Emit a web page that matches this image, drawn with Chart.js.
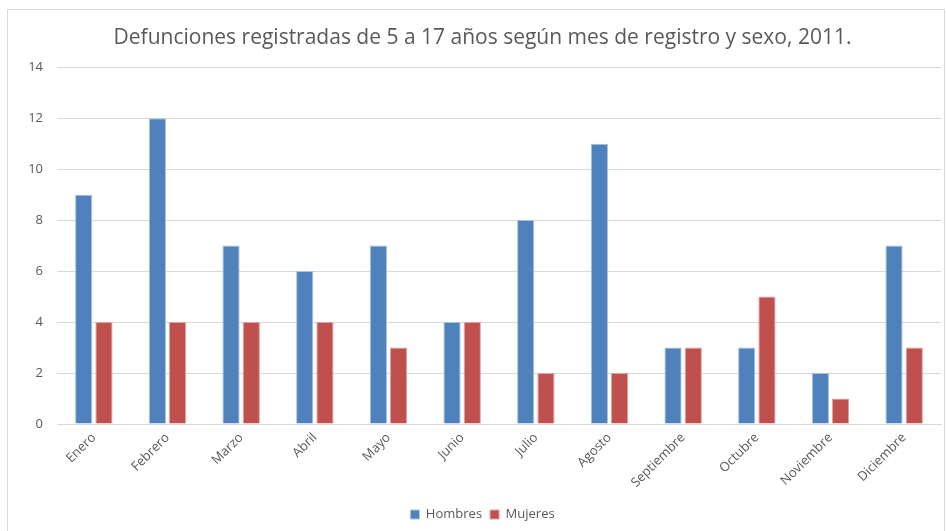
<!DOCTYPE html>
<html>
<head>
<meta charset="utf-8">
<script src="https://cdn.jsdelivr.net/npm/chart.js@4.4.1/dist/chart.umd.min.js"></script>
<style>
    html, body { margin: 0; padding: 0; background: #fff; }
    #wrap { position: relative; width: 946px; height: 531px; overflow: hidden; }
    #frame { position: absolute; left: 7px; top: 9px; width: 936px; height: 530px; border: 1px solid #d9d9d9; }
    #chart { position: absolute; left: 0; top: 0; }
</style>
</head>
<body>
<div id="wrap">
    <div id="frame"></div>
    <canvas id="chart" width="946" height="531"></canvas>
</div>
<script>
// Chart data
const months = ['Enero', 'Febrero', 'Marzo', 'Abril', 'Mayo', 'Junio', 'Julio',
                'Agosto', 'Septiembre', 'Octubre', 'Noviembre', 'Diciembre'];
const hombres = [9, 12, 7, 6, 7, 4, 8, 11, 3, 3, 2, 7];
const mujeres = [4, 4, 4, 4, 3, 4, 2, 2, 3, 5, 1, 3];
const titleText = 'Defunciones registradas de 5 a 17 años según mes de registro y sexo, 2011.';

const fontFamily = '"Open Sans", "Noto Sans", sans-serif';
const textColor = '#595959';

const ctx = document.getElementById('chart').getContext('2d');
new Chart(ctx, {
    type: 'bar',
    data: {
        labels: months,
        datasets: [
            {
                label: 'Hombres',
                data: hombres,
                backgroundColor: '#4f81bd',
                borderColor: '#a9c1e0',
                borderWidth: 1,
                categoryPercentage: 0.55,
                barPercentage: 0.85
            },
            {
                label: 'Mujeres',
                data: mujeres,
                backgroundColor: '#c0504d',
                borderColor: '#e0a3a1',
                borderWidth: 1,
                categoryPercentage: 0.55,
                barPercentage: 0.85
            }
        ]
    },
    options: {
        responsive: false,
        animation: false,
        // extra left padding nudges title/legend centre to the right
        layout: { padding: { left: 24, right: 5, top: 0, bottom: 0 } },
        plugins: {
            title: {
                display: true,
                text: titleText,
                color: textColor,
                font: { family: fontFamily, size: 21, weight: 'normal' },
                padding: { top: 25, bottom: 17 }
            },
            legend: {
                position: 'bottom',
                labels: {
                    color: textColor,
                    font: { family: fontFamily, size: 13 },
                    boxWidth: 9,
                    boxHeight: 9,
                    padding: 8
                }
            },
            tooltip: { enabled: false }
        },
        scales: {
            x: {
                grid: { display: false, drawTicks: false },
                border: { color: '#d9d9d9', width: 1 },
                ticks: {
                    color: textColor,
                    font: { family: fontFamily, size: 13 },
                    minRotation: 45,
                    maxRotation: 45,
                    padding: 6
                },
                afterFit: (scale) => { scale.height = 76; }
            },
            y: {
                min: 0,
                max: 14,
                ticks: {
                    stepSize: 2,
                    color: textColor,
                    font: { family: fontFamily, size: 13 },
                    padding: 14
                },
                grid: { color: '#d9d9d9', drawTicks: false },
                border: { display: false },
                afterFit: (scale) => { scale.width = 33; }
            }
        }
    }
});
</script>
</body>
</html>
